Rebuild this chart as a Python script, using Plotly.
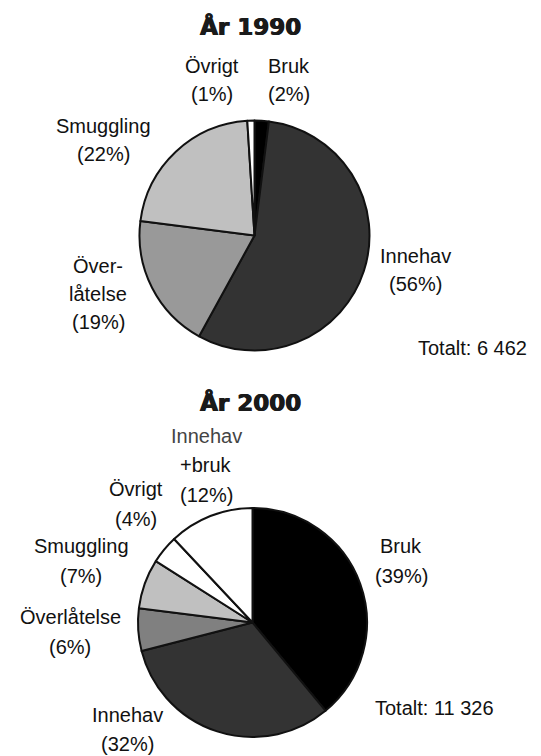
import plotly.graph_objects as go

# ---------------- data ----------------
cat_1990 = ["Bruk", "Innehav", "Överlåtelse", "Smuggling", "Övrigt"]
val_1990 = [2, 56, 19, 22, 1]
col_1990 = ["#000000", "#333333", "#999999", "#c0c0c0", "#ffffff"]

cat_2000 = ["Bruk", "Innehav", "Överlåtelse", "Smuggling", "Övrigt", "Innehav+bruk"]
val_2000 = [39, 32, 6, 7, 4, 12]
col_2000 = ["#000000", "#333333", "#808080", "#c0c0c0", "#ffffff", "#ffffff"]

title_1990 = "År 1990"
title_2000 = "År 2000"
total_1990 = "Totalt: 6 462"
total_2000 = "Totalt: 11 326"

# label lines for each slice
lines_1990 = [["Bruk", "(2%)"], ["Innehav", "(56%)"], ["Över-", "låtelse", "(19%)"],
              ["Smuggling", "(22%)"], ["Övrigt", "(1%)"]]
lines_2000 = [["Bruk", "(39%)"], ["Innehav", "(32%)"], ["Överlåtelse", "(6%)"],
              ["Smuggling", "(7%)"], ["Övrigt", "(4%)"], ["Innehav", "+bruk", "(12%)"]]

# ---------------- layout helpers ----------------
PAGE_W, PAGE_H = 541, 756
OFF = 8  # default body margin of the html page
W, H = PAGE_W - OFF, PAGE_H - OFF


def px_x(x):
    return (x - OFF) / W


def px_y(y):
    return 1 - (y - OFF) / H


def domain(cx, cy, r):
    return dict(x=[px_x(cx - r), px_x(cx + r)], y=[px_y(cy + r), px_y(cy - r)])


fig = go.Figure()

fig.add_trace(go.Pie(
    labels=cat_1990, values=val_1990, sort=False, direction="clockwise",
    rotation=0, textinfo="none", hoverinfo="label+percent",
    marker=dict(colors=col_1990, line=dict(color="#111111", width=2)),
    domain=domain(254.5, 235.5, 115), showlegend=False,
))
fig.add_trace(go.Pie(
    labels=cat_2000, values=val_2000, sort=False, direction="clockwise",
    rotation=0, textinfo="none", hoverinfo="label+percent",
    marker=dict(colors=col_2000, line=dict(color="#111111", width=2)),
    domain=domain(252.5, 622.5, 114.5), showlegend=False,
))

LABEL_FONT = dict(family="Liberation Sans, Arial, sans-serif", size=20, color="#111111")
TITLE_FONT = dict(family="DejaVu Sans, sans-serif", size=23, color="#1a1a1a",
                  shadow="0.7px 0 0 #1a1a1a, -0.5px 0 0 #1a1a1a")

# label anchor positions (page pixel centers): x, first-line y, line spacing
pos_1990 = [(289, 66, 28.5), (415, 256, 28), (98, 266, 28), (103, 125.5, 28), (212, 66, 28.5)]
pos_2000 = [(401, 546, 29.5), (127, 715, 29), (70, 617, 30), (81, 546, 30), (136, 489, 29.5),
            (206, 436, 29.5)]

annotations = []


def add_text(text, x, y, font, bold=False):
    annotations.append(dict(
        text=f"<b>{text}</b>" if bold else text,
        x=px_x(x), y=px_y(y), xref="paper", yref="paper",
        xanchor="center", yanchor="middle", showarrow=False, font=font,
    ))


for lines, (x, y0, dy) in zip(lines_1990, pos_1990):
    for i, t in enumerate(lines):
        add_text(t, x, y0 + i * dy, LABEL_FONT)

for k, (lines, (x, y0, dy)) in enumerate(zip(lines_2000, pos_2000)):
    for i, t in enumerate(lines):
        f = dict(LABEL_FONT)
        if k == 5 and i == 0:
            f["color"] = "#444444"
        add_text(t, x, y0 + i * dy, f)

add_text(title_1990, 250, 27, TITLE_FONT, bold=True)
add_text(title_2000, 250, 402, TITLE_FONT, bold=True)
add_text(total_1990, 472, 348, LABEL_FONT)
add_text(total_2000, 434, 708, LABEL_FONT)

fig.update_layout(
    width=W, height=H,
    margin=dict(l=0, r=0, t=0, b=0),
    paper_bgcolor="white", plot_bgcolor="white",
    annotations=annotations,
    showlegend=False,
)

fig.write_html("out.html")
